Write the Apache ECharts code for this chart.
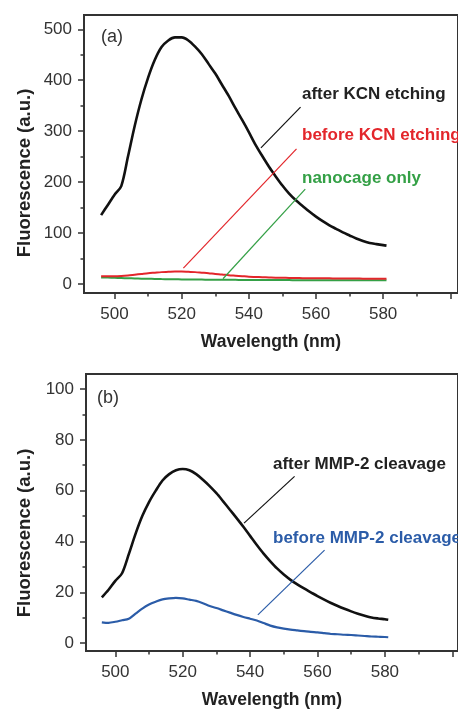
<!DOCTYPE html>
<html>
<head>
<meta charset="utf-8">
<script src="https://cdn.jsdelivr.net/npm/echarts@6/dist/echarts.min.js"></script>
<style>
html, body { margin: 0; padding: 0; background: #fff; }
#chart { width: 458px; height: 710px; }
</style>
</head>
<body>
<div id="chart"></div>
<script>
// wavelength (nm) sampled every 2 nm
var wavelengths = [496, 498, 500, 502, 504, 506, 508, 510, 512, 514, 516, 518, 520, 522, 524, 526, 528, 530, 532, 534, 536, 538,
  540, 542, 544, 546, 548, 550, 552, 554, 556, 558, 560, 562, 564, 566, 568, 570, 572, 574, 576, 578, 580, 581];

// panel (a)
var afterKCN = [135, 155, 175, 192, 250, 310, 362, 405, 440, 465, 478, 484, 484, 478, 466, 451, 432, 413, 391, 369, 345, 322,
  298, 273, 251, 230, 211, 193, 177, 164, 153, 142, 132, 123, 115, 108, 101, 95, 89, 84, 80, 78, 76, 75];
var beforeKCN = [15, 15, 15, 15.5, 16.5, 18, 19.5, 21, 22, 23, 23.5, 24, 24, 23.5, 23, 22, 21, 19.5, 18.5, 17, 16, 15,
  14, 13.5, 13, 12.5, 12, 12, 11.5, 11.5, 11, 11, 11, 11, 10.8, 10.6, 10.5, 10.4, 10.3, 10.2, 10.1, 10, 10, 10];
var nanocageOnly = [12.5, 12.2, 11.8, 11.4, 11, 10.6, 10.2, 9.9, 9.6, 9.3, 9.1, 8.9, 8.7, 8.5, 8.4, 8.3, 8.2, 8.1, 8, 7.9, 7.8, 7.7,
  7.6, 7.5, 7.5, 7.4, 7.4, 7.3, 7.3, 7.2, 7.2, 7.1, 7.1, 7, 7, 7, 7, 7, 7, 7, 7, 7, 7, 7];

// panel (b)
var afterMMP = [18, 21, 24.5, 27.5, 35, 43, 50, 55.5, 60, 64, 66.5, 68, 68.5, 68, 66.5, 64.3, 61.8, 59, 55.8, 52.5, 49.2, 45.8,
  42.2, 38.6, 35.2, 32.2, 29.4, 27, 24.9, 23.1, 21.5, 20, 18.5, 17.1, 15.8, 14.6, 13.5, 12.5, 11.6, 10.8, 10.1, 9.7, 9.4, 9.2];
var beforeMMP = [8.2, 8.0, 8.4, 9.0, 9.6, 11.6, 13.6, 15.2, 16.3, 17.2, 17.6, 17.8, 17.6, 17.1, 16.6, 15.7, 14.6, 13.8, 12.9, 12.0, 11.1, 10.3,
  9.6, 8.9, 7.9, 6.9, 6.2, 5.7, 5.3, 5.0, 4.7, 4.4, 4.2, 3.9, 3.6, 3.5, 3.3, 3.2, 3.0, 2.8, 2.6, 2.5, 2.4, 2.3];

// ticks
var xLabels = [500, 520, 540, 560, 580];
var xMajorTicks = [500, 520, 540, 560, 580, 600];
var xMinorTicks = [510, 530, 550, 570, 590];
var yLabelsA = [0, 100, 200, 300, 400, 500];
var yMinorA = [50, 150, 250, 350, 450];
var yLabelsB = [0, 20, 40, 60, 80, 100];
var yMinorB = [10, 30, 50, 70, 90];

// leader lines, in data coordinates
var leaderA = {
  after: [[555.4, 347], [543.6, 267]],
  before: [[554.2, 265], [520.5, 31]],
  nanocage: [[556.8, 186], [532.3, 10]]
};
var leaderB = {
  after: [[553.2, 65.6], [538.2, 47.2]],
  before: [[562.1, 36.6], [542.3, 11.1]]
};

var FONT = '"Liberation Sans", Arial, sans-serif';
var AXIS = '#333';
var RED = '#e3262b';
var GREEN = '#34a046';
var BLUE = '#2b5ca8';

function pairs(ys) {
  return wavelengths.map(function (x, i) { return [x, ys[i]]; });
}

function leader(seg, color) {
  return {
    silent: true,
    symbol: ['none', 'none'],
    label: { show: false },
    lineStyle: { color: color, width: 1.2, type: 'solid' },
    data: [[{ coord: seg[0] }, { coord: seg[1] }]]
  };
}

function mainX(grid, min, max) {
  return {
    type: 'value', gridIndex: grid, min: min, max: max, position: 'bottom',
    axisLine: { show: true, onZero: false, lineStyle: { color: AXIS, width: 2 } },
    axisTick: { show: true, length: 6, customValues: xMajorTicks, lineStyle: { color: AXIS, width: 1.5 } },
    axisLabel: { customValues: xLabels, fontSize: 17, color: '#333', fontFamily: FONT, margin: 13 },
    splitLine: { show: false },
    name: 'Wavelength (nm)', nameLocation: 'middle', nameGap: 40,
    nameTextStyle: { fontSize: 17.5, fontWeight: 'bold', color: '#222', fontFamily: FONT }
  };
}
function minorX(grid, min, max) {
  return {
    type: 'value', gridIndex: grid, min: min, max: max, position: 'bottom',
    axisLine: { show: false, onZero: false },
    axisTick: { show: true, length: 3.5, customValues: xMinorTicks, lineStyle: { color: AXIS, width: 1.5 } },
    axisLabel: { show: false }, splitLine: { show: false }
  };
}
function mainY(grid, min, max, labels) {
  return {
    type: 'value', gridIndex: grid, min: min, max: max, position: 'left',
    axisLine: { show: true, onZero: false, lineStyle: { color: AXIS, width: 2 } },
    axisTick: { show: true, length: 6, customValues: labels, lineStyle: { color: AXIS, width: 1.5 } },
    axisLabel: { customValues: labels, fontSize: 17, color: '#333', fontFamily: FONT, margin: 12 },
    splitLine: { show: false }
  };
}
function minorY(grid, min, max, ticks) {
  return {
    type: 'value', gridIndex: grid, min: min, max: max, position: 'left',
    axisLine: { show: false, onZero: false },
    axisTick: { show: true, length: 3.5, customValues: ticks, lineStyle: { color: AXIS, width: 1.5 } },
    axisLabel: { show: false }, splitLine: { show: false }
  };
}

function line(name, xi, yi, ys, color, width, mark) {
  return {
    name: name, type: 'line', xAxisIndex: xi, yAxisIndex: yi,
    data: pairs(ys), showSymbol: false, smooth: 0.3, silent: true,
    lineStyle: { color: color, width: width },
    markLine: mark
  };
}

function txt(x, y, s, color, size, bold, rot) {
  return {
    type: 'text', x: x, y: y, rotation: rot || 0, silent: true,
    style: {
      text: s, fill: color, fontSize: size, fontFamily: FONT,
      fontWeight: bold ? 'bold' : 'normal',
      align: rot ? 'center' : 'left', verticalAlign: 'middle'
    }
  };
}

var chart = echarts.init(document.getElementById('chart'));
chart.setOption({
  animation: false,
  backgroundColor: '#fff',
  grid: [
    { left: 84, top: 15, width: 386, height: 278, show: true, borderColor: AXIS, borderWidth: 2, containLabel: false },
    { left: 86, top: 374, width: 384, height: 278, show: true, borderColor: AXIS, borderWidth: 2, containLabel: false }
  ],
  xAxis: [
    mainX(0, 490.9, 602.3), minorX(0, 490.9, 602.3),
    mainX(1, 491.3, 601.7), minorX(1, 491.3, 601.7)
  ],
  yAxis: [
    mainY(0, -18, 528, yLabelsA), minorY(0, -18, 528, yMinorA),
    mainY(1, -3.1, 105.9, yLabelsB), minorY(1, -3.1, 105.9, yMinorB)
  ],
  series: [
    line('nanocage only', 0, 0, nanocageOnly, GREEN, 2, leader(leaderA.nanocage, GREEN)),
    line('before KCN etching', 0, 0, beforeKCN, RED, 2, leader(leaderA.before, RED)),
    line('after KCN etching', 0, 0, afterKCN, '#111', 2.6, leader(leaderA.after, '#111')),
    line('before MMP-2 cleavage', 2, 2, beforeMMP, BLUE, 2.2, leader(leaderB.before, BLUE)),
    line('after MMP-2 cleavage', 2, 2, afterMMP, '#111', 2.6, leader(leaderB.after, '#111'))
  ],
  graphic: [
    txt(101, 37, '(a)', '#333', 18, false),
    txt(302, 94, 'after KCN etching', '#222', 17, true),
    txt(302, 135, 'before KCN etching', RED, 17, true),
    txt(302, 178, 'nanocage only', GREEN, 17, true),
    txt(25, 173, 'Fluorescence (a.u.)', '#222', 18.5, true, Math.PI / 2),
    txt(97, 398, '(b)', '#333', 18, false),
    txt(273, 464, 'after MMP-2 cleavage', '#222', 17, true),
    txt(273, 538, 'before MMP-2 cleavage', BLUE, 17, true),
    txt(25, 533, 'Fluorescence (a.u.)', '#222', 18.5, true, Math.PI / 2)
  ]
});
</script>
</body>
</html>
